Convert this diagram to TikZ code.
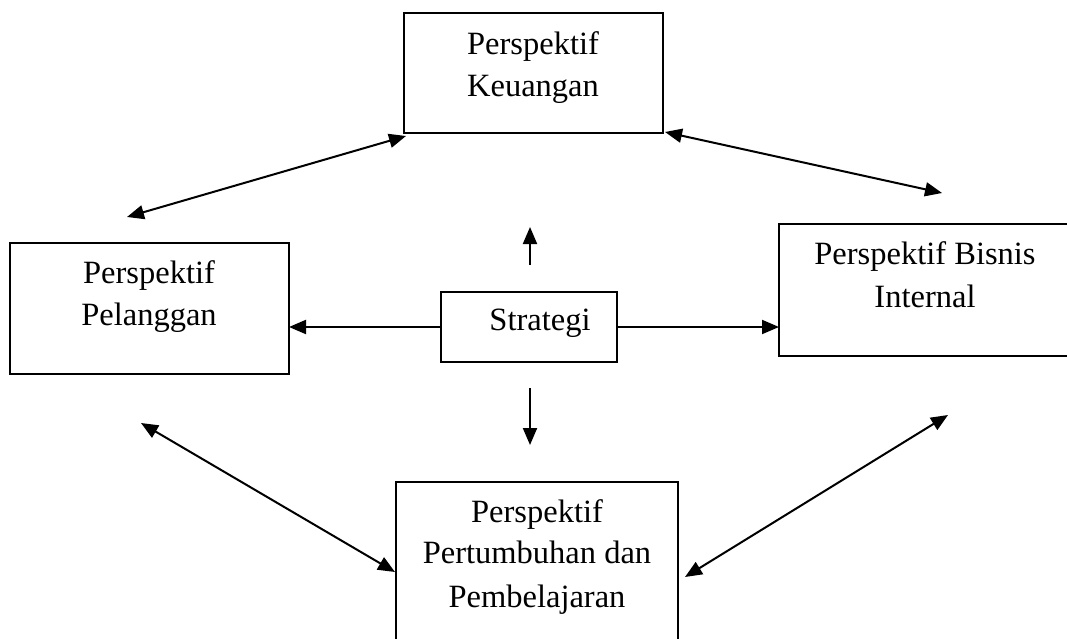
\documentclass[tikz,border=0pt]{standalone}
\usepackage{fontspec}
\setmainfont{Liberation Serif}
\usetikzlibrary{arrows.meta}
\begin{document}
\begin{tikzpicture}[x=1pt,y=-1pt,
  box/.style={draw,line width=2pt,inner sep=0pt,outer sep=0pt},
  lbl/.style={anchor=base,font=\fontsize{32.5}{42}\selectfont,inner sep=0pt},
  conn/.style={line width=2pt,-{Triangle[length=17pt,width=14pt]}},
  bi/.style={line width=2pt,{Triangle[length=17pt,width=14pt]}-{Triangle[length=17pt,width=14pt]}}]
\useasboundingbox (0,0) rectangle (1067,639);
% boxes
\node[box,minimum width=259pt,minimum height=120pt] (tb) at (533.5,73.5) {};
\node[box,minimum width=279pt,minimum height=131pt] (lb) at (149.5,308.5) {};
\node[box,minimum width=291pt,minimum height=132pt] (rb) at (924.5,290) {};
\node[box,minimum width=282pt,minimum height=165pt] (bb) at (537,564.5) {};
\node[box,minimum width=176pt,minimum height=70pt] (sg) at (529,327) {};
% labels
\node[lbl] (t1) at (533,55) {Perspektif};
\node[lbl] (t2) at (533,97) {Keuangan};
\node[lbl] (l1) at (149,283) {Perspektif};
\node[lbl] (l2) at (149,325) {Pelanggan};
\node[lbl] (r1) at (925,264) {Perspektif Bisnis};
\node[lbl] (r2) at (925,307) {Internal};
\node[lbl] (b1) at (537,522) {Perspektif};
\node[lbl] (b2) at (537,563) {Pertumbuhan dan};
\node[lbl] (b3) at (537,607) {Pembelajaran};
\node[lbl] (s1) at (540,330) {Strategi};
% coordinates
\coordinate (upA) at (530,265);
\coordinate (upB) at (530,227);
\coordinate (dnA) at (530,388);
\coordinate (dnB) at (530,445);
\coordinate (tlA) at (127,217);
\coordinate (tlB) at (406,136);
\coordinate (trA) at (665,132);
\coordinate (trB) at (942,193);
\coordinate (blA) at (141,423);
\coordinate (blB) at (395,572);
\coordinate (brA) at (948,415);
\coordinate (brB) at (685,577);
% connectors
\draw[conn] (upA) -- (upB);
\draw[conn] (dnA) -- (dnB);
\draw[conn] (sg.west) -- (sg.west -| lb.east);
\draw[conn] (sg.east) -- (sg.east -| rb.west);
\draw[bi] (tlA) -- (tlB);
\draw[bi] (trA) -- (trB);
\draw[bi] (blA) -- (blB);
\draw[bi] (brA) -- (brB);
\end{tikzpicture}
\end{document}
